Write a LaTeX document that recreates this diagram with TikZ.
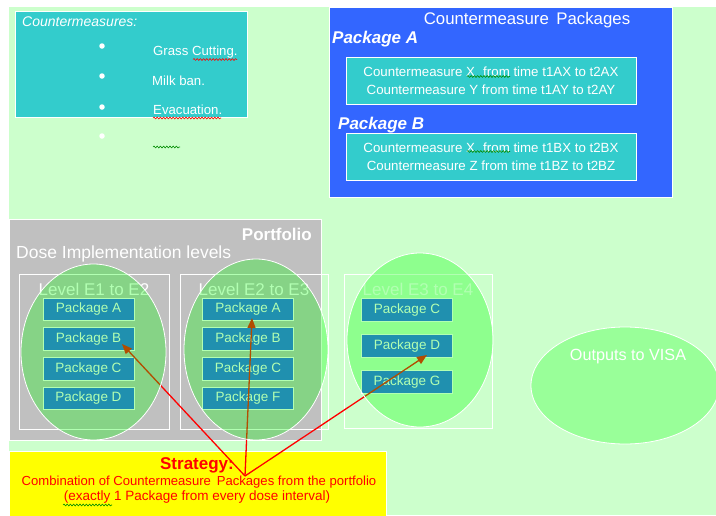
\documentclass[tikz,border=0pt]{standalone}
\usepackage{fontspec}
\setmainfont{Liberation Sans}
\usetikzlibrary{arrows.meta,decorations.pathmorphing,shapes.geometric}
\definecolor{bgg}{RGB}{204,255,204}
\definecolor{tealc}{RGB}{51,204,204}
\definecolor{bluec}{RGB}{51,102,255}
\definecolor{grayc}{RGB}{192,192,192}
\definecolor{pkgc}{RGB}{46,96,251}
\definecolor{outc}{RGB}{153,255,153}
\definecolor{yel}{RGB}{255,255,0}
\tikzset{
  fs/.style={font=\fontsize{#1}{#1}\selectfont},
  fsb/.style={font=\fontsize{#1}{#1}\selectfont\bfseries},
  fsi/.style={font=\fontsize{#1}{#1}\selectfont\itshape},
  fsbi/.style={font=\fontsize{#1}{#1}\selectfont\bfseries\itshape},
  pkgbox/.style={draw=white, line width=0.6pt, fill=pkgc, text=white, minimum width=91pt, minimum height=22.5pt, inner sep=0pt, fs=13.5},
  lvlframe/.style={draw=white, line width=0.8pt},
  lvllabel/.style={text=white, fs=17, inner sep=0pt},
  dose/.style={fill=green, fill opacity=0.3, draw=white, draw opacity=1, line width=0.8pt},
  squig/.style={decorate, decoration={snake, amplitude=0.9pt, segment length=3.2pt}, line width=0.6pt},
  pick/.style={red, line width=1.3pt, -{Triangle[length=10pt,width=8pt]}},
  wtext/.style={text=white, inner sep=0pt},
  bullet/.style={circle, fill=white, minimum size=5.5pt, inner sep=0pt}
}
\begin{document}
\begin{tikzpicture}[x=1pt,y=-1pt]
\useasboundingbox (0,0) rectangle (716,515);
\fill[white] (0,0) rectangle (716,515);
\fill[bgg] (9,7) rectangle (716,515);

% Countermeasures list
\node[draw=white, line width=0.8pt, fill=tealc, minimum width=232pt, minimum height=106pt, inner sep=0pt] (cmbox) at (131,64) {};
\node[wtext, fsi=14, anchor=west] (cmtitle) at (22,22) {Countermeasures:};
\node[bullet] (b1) at (102,46) {};
\node[bullet] (b2) at (102,76) {};
\node[bullet] (b3) at (102,107) {};
\node[bullet] (b4) at (102,136) {};
\node[wtext, fs=13.2, anchor=west] (cm1) at (153,52) {Grass Cutting.};
\node[wtext, fs=13.2, anchor=west] (cm2) at (152,81) {Milk ban.};
\node[wtext, fs=13.2, anchor=west] (cm3) at (153,110) {Evacuation.};
\draw[red, squig] (193,59.5) -- (237,59.5);
\draw[red, squig] (153,118) -- (221,118);
\draw[green!55!black, squig] (153,147) -- (180,147);

% Countermeasure packages
\node[draw=white, line width=0.8pt, fill=bluec, minimum width=343pt, minimum height=190pt, inner sep=0pt] (cpbox) at (500.5,102) {};
\node[wtext, fs=16.8] (cptitle) at (527,20) {Countermeasure\, Packages};
\node[wtext, fsbi=17, anchor=west] (pa) at (332,39) {Package A};
\node[wtext, fsbi=17, anchor=west] (pb) at (338,125) {Package B};
\node[draw=white, line width=0.8pt, fill=tealc, text=white, minimum width=290pt, minimum height=47pt, inner sep=0pt, fs=13.3, align=center] (boxa) at (491,80.5) {Countermeasure X\,\, from time t1AX to t2AX\\[5pt]Countermeasure Y from time t1AY to t2AY};
\node[draw=white, line width=0.8pt, fill=tealc, text=white, minimum width=290pt, minimum height=47pt, inner sep=0pt, fs=13.3, align=center] (boxb) at (491,156.5) {Countermeasure X\,\, from time t1BX to t2BX\\[5pt]Countermeasure Z from time t1BZ to t2BZ};
\draw[green!55!black, squig] (467,76.5) -- (510,76.5);
\draw[green!55!black, squig] (467,151.5) -- (510,151.5);

% Portfolio
\node[draw=white, line width=0.6pt, fill=grayc, minimum width=312pt, minimum height=221pt, inner sep=0pt] (port) at (165,329.5) {};
\node[wtext, fsb=17, anchor=east] (porttitle) at (312,234) {Portfolio};
\node[wtext, fs=17.5, anchor=west] (dose) at (16,254) {Dose Implementation levels};

\draw[lvlframe] (19,274) rectangle (169,429);
\draw[lvlframe] (180,274) rectangle (328,429);
\draw[lvlframe] (344,274) rectangle (492,428);
\node[lvllabel] (l1) at (94,289) {Level E1 to E2};
\node[lvllabel] (l2) at (254,289) {Level E2 to E3};
\node[lvllabel] (l3) at (418,289) {Level E3 to E4};

\node[pkgbox] (p1a) at (88.5,309.5) {Package A};
\node[pkgbox] (p1b) at (88.5,339) {Package B};
\node[pkgbox] (p1c) at (88.5,369) {Package C};
\node[pkgbox] (p1d) at (88.5,398.5) {Package D};
\node[pkgbox] (p2a) at (248,309.5) {Package A};
\node[pkgbox] (p2b) at (248,339) {Package B};
\node[pkgbox] (p2c) at (248,369) {Package C};
\node[pkgbox] (p2f) at (248,398.5) {Package F};
\node[pkgbox] (p3c) at (407,310) {Package C};
\node[pkgbox] (p3d) at (407,346) {Package D};
\node[pkgbox] (p3g) at (407,382) {Package G};

% Outputs
\node[ellipse, draw=white, line width=0.8pt, fill=outc, minimum width=188pt, minimum height=117pt, inner sep=0pt] (out) at (625,385.5) {};
\node[wtext, fs=16.2] (outtxt) at (628,357) {Outputs to VISA};

% Strategy
\node[draw=white, line width=0.6pt, fill=yel, minimum width=377pt, minimum height=66pt, inner sep=0pt] (strat) at (197.5,484) {};
\node[text=red, fsb=17, inner sep=0pt] (st1) at (197,465) {Strategy:};
\node[text=red, fs=13.1, inner sep=0pt] (st2) at (199,482) {Combination of Countermeasure\, Packages from the portfolio};
\node[text=red, fs=13.5, inner sep=0pt] (st3) at (197,497) {(exactly 1 Package from every dose interval)};
\draw[green!55!black, squig] (63,505) -- (112,505);

% choices
\coordinate (s) at (245,476);
\coordinate (t1) at (122,344);
\coordinate (t2) at (252,318);
\coordinate (t3) at (427,355);
\draw[pick] (s) -- (t1);
\draw[pick] (s) -- (t2);
\draw[pick] (s) -- (t3);

% dose interval ellipses (translucent overlay)
\draw[dose] (93.5,352) ellipse[x radius=72.5, y radius=88];
\draw[dose] (256,349.5) ellipse[x radius=72, y radius=90.5];
\draw[dose] (420,340) ellipse[x radius=73, y radius=87];
\end{tikzpicture}
\end{document}
